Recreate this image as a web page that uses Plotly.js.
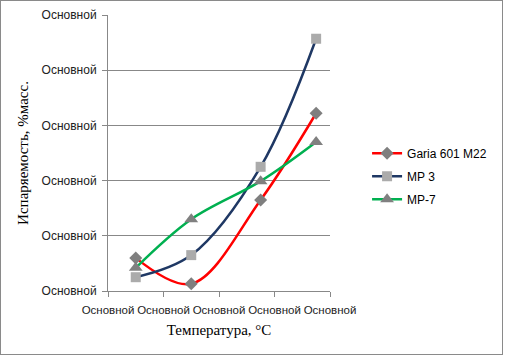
<!DOCTYPE html>
<html>
<head>
<meta charset="utf-8">
<script src="https://cdn.plot.ly/plotly-3.0.1.min.js"></script>
<style>
html,body{margin:0;padding:0;background:#fff;}
#chart{position:absolute;left:0;top:0;width:508px;height:357px;}
#frame{position:absolute;left:0;top:0;width:501px;height:353px;border:1px solid #8a8a8a;pointer-events:none;}
</style>
</head>
<body>
<div id="chart"></div>
<div id="frame"></div>
<script>
// Data
const temps = [0.5, 1.5, 2.75, 3.75];
const garia = [0.60, 0.13, 1.65, 3.22];
const mp3 = [0.25, 0.65, 2.25, 4.57];
const mp7 = [0.42, 1.30, 1.99, 2.70];
const seriesNames = ["Garia 601 M22", "MP 3", "MP-7"];
const xTickVals = [0, 1, 2, 3, 4];
const yTickVals = [0, 1, 2, 3, 4, 5];
const tickLabel = "Основной";

const lineShape = {shape: 'spline', smoothing: 1, width: 2.5};

const traces = [
  {x: temps, y: garia, name: seriesNames[0], mode: 'lines+markers', legendgroup: 'a',
   line: Object.assign({color: '#FF0000'}, lineShape),
   marker: {symbol: 'diamond', size: 10, color: '#7F7F7F'}},
  {x: temps, y: mp3, name: seriesNames[1], mode: 'lines+markers', legendgroup: 'b',
   line: Object.assign({color: '#1F3864'}, lineShape),
   marker: {symbol: 'square', size: 10, color: '#ABABAB'}},
  {x: temps, y: mp7, name: seriesNames[2], mode: 'lines+markers', legendgroup: 'c',
   line: Object.assign({color: '#00B050'}, lineShape),
   marker: {symbol: 'triangle-up', size: 12, color: '#808080'}}
];

const layout = {
  width: 508, height: 357,
  margin: {l: 108, r: 178, t: 15, b: 66},
  paper_bgcolor: '#fff', plot_bgcolor: '#fff',
  showlegend: true,
  legend: {x: 1.167, y: 0.552, xanchor: 'left', yanchor: 'top',
           traceorder: 'grouped', tracegroupgap: 4,
           font: {family: 'Liberation Sans, Arial, sans-serif', size: 12, color: '#000'}},
  xaxis: {range: [0, 4], tickvals: xTickVals, ticktext: xTickVals.map(() => tickLabel),
          tickangle: 0, ticklabelstandoff: 3,
          showgrid: false, zeroline: false, showline: true, linecolor: '#888', linewidth: 1,
          ticks: 'outside', ticklen: 5, tickcolor: '#888',
          tickfont: {family: 'Liberation Sans, Arial, sans-serif', size: 11.5, color: '#222'},
          title: {text: 'Температура, °C', standoff: 9,
                  font: {family: 'Liberation Serif, Times New Roman, serif', size: 15, color: '#000'}}},
  yaxis: {range: [0, 5], tickvals: yTickVals, ticktext: yTickVals.map(() => tickLabel),
          ticklabelstandoff: 3,
          showgrid: true, gridcolor: '#888', gridwidth: 1, zeroline: false,
          showline: true, linecolor: '#888', linewidth: 1,
          ticks: 'outside', ticklen: 5, tickcolor: '#888',
          tickfont: {family: 'Liberation Sans, Arial, sans-serif', size: 12, color: '#222'},
          title: {text: 'Испаряемость, %масс.', standoff: 9,
                  font: {family: 'Liberation Serif, Times New Roman, serif', size: 15, color: '#000'}}}
};

Plotly.newPlot('chart', traces, layout, {staticPlot: true, displayModeBar: false});
</script>
</body>
</html>
